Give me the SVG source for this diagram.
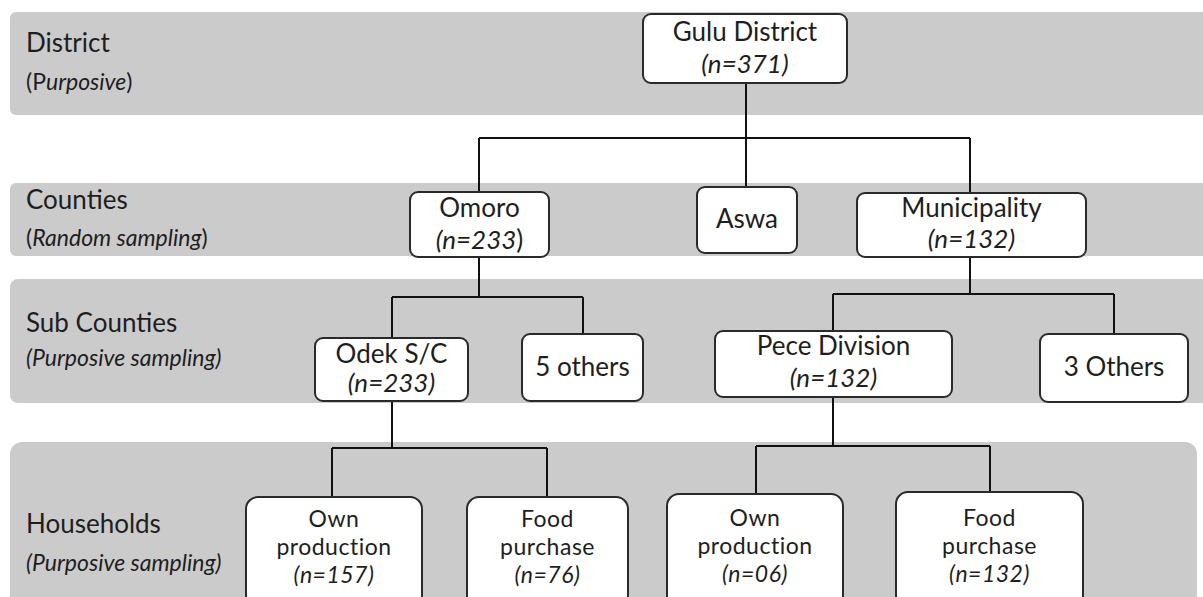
<svg xmlns="http://www.w3.org/2000/svg" width="1203" height="597" viewBox="0 0 1203 597">
<style>
.band{fill:#cbcbcb}
.box{fill:#fff;stroke:#2a2a2a;stroke-width:2}
.t{font-family:Lato,"Open Sans",sans-serif;font-size:26px;fill:#1e1e1e}
.h{font-family:Lato,"Open Sans",sans-serif;font-size:23px;letter-spacing:0.5px;fill:#1e1e1e}
.s{font-family:Lato,"Open Sans",sans-serif;font-size:23px;fill:#1e1e1e}
.c{text-anchor:middle}
.i{font-style:italic}
.ln{fill:none;stroke:#111;stroke-width:2}
</style>
<rect width="1203" height="597" fill="#fff"/>
<g id="bands">
<rect class="band" x="10" y="12" width="1203" height="103" rx="6"/>
<rect class="band" x="10" y="183" width="1203" height="73" rx="6"/>
<rect class="band" x="10" y="279" width="1203" height="124" rx="8"/>
<rect class="band" x="10" y="442" width="1187" height="170" rx="12"/>
</g>
<g id="labels">
<text class="t" x="26" y="52">District</text>
<text class="s" x="26" y="90">(P<tspan class="i">urposive</tspan>)</text>
<text class="t" x="26" y="209">Counties</text>
<text class="s" x="26" y="246">(<tspan class="i">Random sampling</tspan>)</text>
<text class="t" x="26" y="332">Sub Counties</text>
<text class="s i" x="26" y="366">(Purposive sampling)</text>
<text class="t" x="26" y="533">Households</text>
<text class="s i" x="26" y="571">(Purposive sampling)</text>
</g>
<g id="connectors">
<path class="ln" d="M746,83V138M479,138H970M479,138V192M746,138V187M970,138V193"/>
<path class="ln" d="M479,257V297M392,297H583M392,297V338M583,297V334"/>
<path class="ln" d="M970,257V294M833,294H1114M833,294V331M1114,294V334"/>
<path class="ln" d="M392,401V448M332,448H547M332,448V497M547,448V497"/>
<path class="ln" d="M833,397V446M756,446H990M756,446V494M990,446V492"/>
</g>
<g id="gulu">
<rect class="box" x="643" y="14" width="204" height="69" rx="8"/>
<text class="t c" x="745" y="41">Gulu District</text>
<text class="t c i" x="745" y="73">(n=371)</text>
</g>
<g id="omoro">
<rect class="box" x="410" y="192" width="139" height="65" rx="8"/>
<text class="t c" x="479.5" y="217">Omoro</text>
<text class="t c" x="479.5" y="249"><tspan class="i">(n=233</tspan>)</text>
</g>
<g id="aswa">
<rect class="box" x="697" y="187" width="100" height="66" rx="8"/>
<text class="t c" x="747" y="228">Aswa</text>
</g>
<g id="municipality">
<rect class="box" x="857" y="193" width="229" height="64" rx="8"/>
<text class="t c" x="971.5" y="217">Municipality</text>
<text class="t c i" x="971.5" y="248">(n=132)</text>
</g>
<g id="odek">
<rect class="box" x="315" y="338" width="153" height="63" rx="8"/>
<text class="t c" x="391.5" y="363">Odek S/C</text>
<text class="t c i" x="391.5" y="392">(n=233)</text>
</g>
<g id="others5">
<rect class="box" x="522" y="334" width="121" height="67" rx="8"/>
<text class="t c" x="582.5" y="376">5 others</text>
</g>
<g id="pece">
<rect class="box" x="715" y="331" width="237" height="66" rx="8"/>
<text class="t c" x="833.5" y="355">Pece Division</text>
<text class="t c i" x="833.5" y="387">(n=132)</text>
</g>
<g id="others3">
<rect class="box" x="1040" y="334" width="148" height="68" rx="8"/>
<text class="t c" x="1114" y="376">3 Others</text>
</g>
<g id="own1">
<rect class="box" x="246" y="497" width="176" height="110" rx="12"/>
<text class="h c" x="334" y="527">Own</text>
<text class="h c" x="334" y="555">production</text>
<text class="h c i" x="334" y="583">(n=157)</text>
</g>
<g id="food1">
<rect class="box" x="467" y="497" width="161" height="110" rx="12"/>
<text class="h c" x="547.5" y="527">Food</text>
<text class="h c" x="547.5" y="555">purchase</text>
<text class="h c i" x="547.5" y="583">(n=76)</text>
</g>
<g id="own2">
<rect class="box" x="667" y="494" width="176" height="113" rx="12"/>
<text class="h c" x="755" y="526">Own</text>
<text class="h c" x="755" y="554">production</text>
<text class="h c i" x="755" y="582">(n=06)</text>
</g>
<g id="food2">
<rect class="box" x="896" y="492" width="187" height="115" rx="12"/>
<text class="h c" x="989.5" y="526">Food</text>
<text class="h c" x="989.5" y="554">purchase</text>
<text class="h c i" x="989.5" y="582">(n=132)</text>
</g>
</svg>
